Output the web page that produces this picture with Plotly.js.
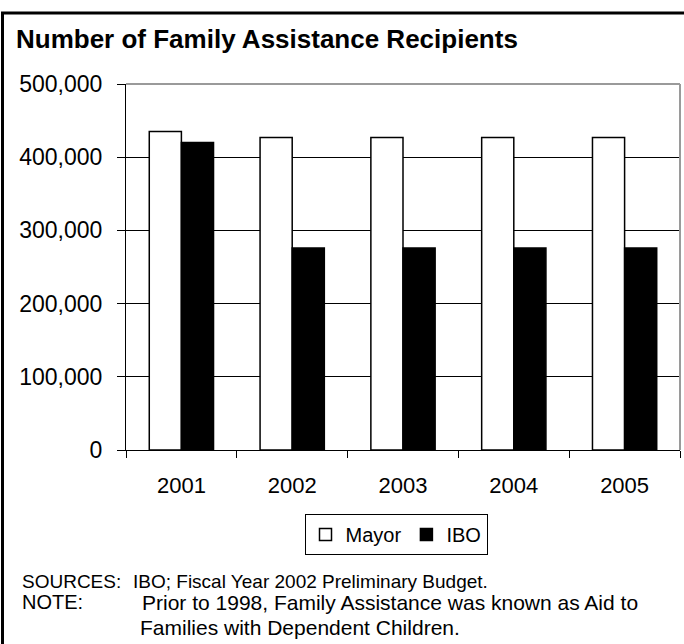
<!DOCTYPE html>
<html>
<head>
<meta charset="utf-8">
<script src="https://cdn.plot.ly/plotly-3.0.1.min.js"></script>
<style>
  html, body { margin: 0; padding: 0; background: #fff; }
  #chart { width: 684px; height: 644px; }
</style>
</head>
<body>
<div id="chart"></div>
<script>
const categories = ['2001', '2002', '2003', '2004', '2005'];
const mayorValues = [435000, 427000, 427000, 427000, 427000];
const iboValues = [420000, 276000, 276000, 276000, 276000];
const seriesNames = ['Mayor', 'IBO'];
const yTickValues = [0, 100000, 200000, 300000, 400000, 500000];
const titleText = 'Number of Family Assistance Recipients';
const sourceLabel = 'SOURCES:';
const sourceText = 'IBO; Fiscal Year 2002 Preliminary Budget.';
const noteLabel = 'NOTE:';
const noteLine1 = 'Prior to 1998, Family Assistance was known as Aid to';
const noteLine2 = 'Families with Dependent Children.';

const FONT = 'Liberation Sans, Arial, Helvetica, sans-serif';
const W = 684, H = 644;
const L = 126, R = 4, T = 84, B = 194;
const pw = W - L - R, ph = H - T - B;
const px = x => (x - L) / pw;          // pixel x -> paper x
const py = y => (H - B - y) / ph;      // pixel y -> paper y

const traces = [
  {
    type: 'bar', name: seriesNames[0], x: categories, y: mayorValues,
    marker: { color: '#ffffff', line: { color: '#000000', width: 1.5 } },
    hoverinfo: 'x+y'
  },
  {
    type: 'bar', name: seriesNames[1], x: categories, y: iboValues,
    marker: { color: '#000000', line: { color: '#000000', width: 1.5 } },
    hoverinfo: 'x+y'
  }
];

function note(text, x, y, size) {
  return {
    xref: 'paper', yref: 'paper', x: px(x), y: py(y),
    xanchor: 'left', yanchor: 'middle', showarrow: false,
    text: text, font: { family: FONT, size: size, color: '#000' }
  };
}

const layout = {
  width: W, height: H,
  margin: { l: L, r: R, t: T, b: B, pad: 0 },
  paper_bgcolor: '#ffffff', plot_bgcolor: '#ffffff',
  font: { family: FONT, color: '#000' },
  barmode: 'group', bargap: 0.42, bargroupgap: 0,
  title: {
    text: '<b>' + titleText + '</b>',
    font: { family: FONT, size: 26, color: '#000' },
    xref: 'container', yref: 'container',
    x: 16 / W, xanchor: 'left',
    y: 1 - 39 / H, yanchor: 'middle'
  },
  xaxis: {
    type: 'category', tickson: 'boundaries',
    showgrid: false, zeroline: false,
    showline: true, linecolor: '#000', linewidth: 1,
    ticks: 'outside', ticklen: 7, tickcolor: '#000', tickwidth: 1,
    ticklabelstandoff: 16,
    tickfont: { family: FONT, size: 22, color: '#000' }
  },
  yaxis: {
    range: [0, 500000], tickvals: yTickValues, tickformat: ',d',
    showgrid: true, gridcolor: '#000', gridwidth: 1,
    zeroline: false,
    showline: true, linecolor: '#000', linewidth: 1,
    ticks: 'outside', ticklen: 8, tickcolor: '#000', tickwidth: 1,
    ticklabelstandoff: 10,
    tickfont: { family: FONT, size: 23, color: '#000' }
  },
  showlegend: true,
  legend: {
    orientation: 'h', xref: 'paper', yref: 'paper',
    x: px(396), xanchor: 'center', y: py(514), yanchor: 'top',
    bordercolor: '#000', borderwidth: 1, bgcolor: '#fff',
    itemwidth: 30, traceorder: 'normal',
    font: { family: FONT, size: 20, color: '#000' }
  },
  shapes: [
    // plot area frame (top & right), grey
    { type: 'line', xref: 'paper', yref: 'paper', x0: 0, x1: 1, y0: 1, y1: 1,
      line: { color: '#9a9a9a', width: 2 }, layer: 'above' },
    { type: 'line', xref: 'paper', yref: 'paper', x0: 1, x1: 1, y0: 0, y1: 1,
      line: { color: '#9a9a9a', width: 2 }, layer: 'above' },
    // outer figure border (left & top)
    { type: 'path', xref: 'paper', yref: 'paper',
      path: 'M ' + px(2.5) + ',' + py(660) + ' L ' + px(2.5) + ',' + py(13) + ' L ' + px(700) + ',' + py(13),
      line: { color: '#000', width: 3 }, layer: 'above' }
  ],
  annotations: [
    note(sourceLabel, 20, 581, 19),
    note(sourceText, 131, 581, 19),
    note(noteLabel, 20, 602, 20),
    note(noteLine1, 140, 602, 21),
    note(noteLine2, 138, 627, 21)
  ]
};

Plotly.newPlot('chart', traces, layout, { displayModeBar: false, staticPlot: true });
</script>
</body>
</html>
